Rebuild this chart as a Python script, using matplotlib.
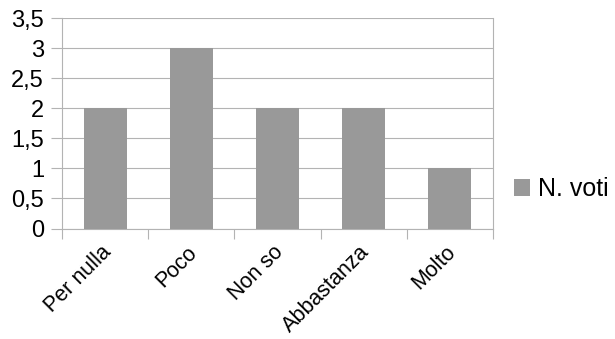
import matplotlib.pyplot as plt
import numpy as np

plt.rcParams['font.family'] = ['Liberation Sans', 'DejaVu Sans']

categorie = ['Per nulla', 'Poco', 'Non so', 'Abbastanza', 'Molto']
voti = [2, 3, 2, 2, 1]
yticks = [0, 0.5, 1, 1.5, 2, 2.5, 3, 3.5]
ytick_labels = ['0', '0,5', '1', '1,5', '2', '2,5', '3', '3,5']

grigio = '#b3b3b3'

fig = plt.figure(figsize=(6.15, 3.39), dpi=100)
ax = fig.add_axes([62 / 615, 1 - 228.5 / 339, 431 / 615, 210.5 / 339])

x = np.arange(len(categorie))
ax.bar(x, voti, width=0.5, color='#999999', label='N. voti', zorder=3)

ax.set_xlim(-0.5, len(categorie) - 0.5)
ax.set_ylim(0, 3.5)

# griglia orizzontale e tacche
ax.set_yticks(yticks)
ax.set_yticklabels(ytick_labels)
ax.yaxis.grid(True, color=grigio, linewidth=0.8, zorder=0)
ax.tick_params(axis='y', length=8, width=0.8, color=grigio, pad=5, labelsize=17)

ax.set_xticks(np.arange(-0.5, len(categorie)), minor=True)
ax.set_xticks(x + 0.03)
ax.set_xticklabels(categorie, rotation=45, ha='right', va='center', rotation_mode='anchor')
ax.tick_params(axis='x', which='major', length=0, pad=15, labelsize=15.5)
ax.tick_params(axis='x', which='minor', length=7.5, color=grigio, width=0.8)

for s in ['left', 'right', 'bottom']:
    ax.spines[s].set_color(grigio)
    ax.spines[s].set_linewidth(0.8)
ax.spines['top'].set_visible(False)

fig.legend(loc='center left', bbox_to_anchor=(514 / 615, 1 - 189 / 339), frameon=False,
           fontsize=18, borderpad=0, borderaxespad=0,
           handlelength=0.65, handleheight=0.65, handletextpad=0.32)

plt.savefig('out.png', dpi=100)
